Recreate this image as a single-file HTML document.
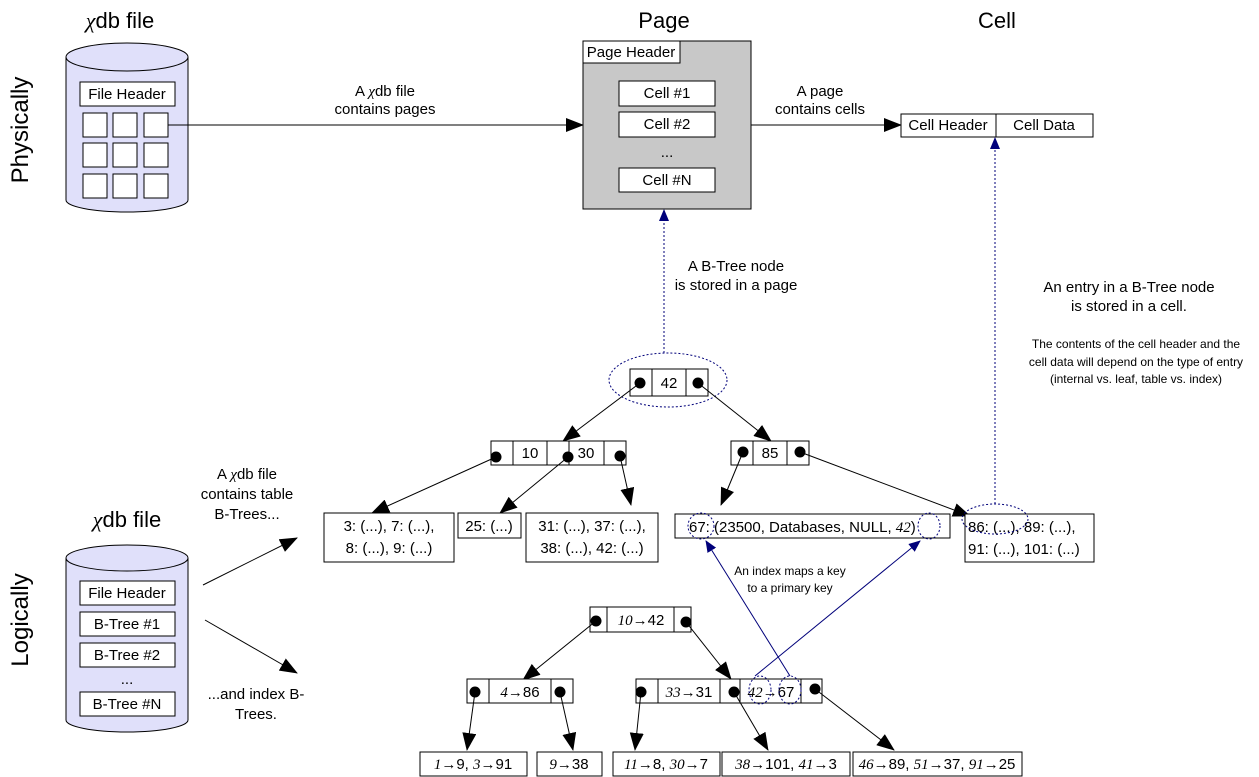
<!DOCTYPE html>
<html><head><meta charset="utf-8"><style>
html,body{margin:0;padding:0;background:#fff;width:1259px;height:777px;overflow:hidden}
svg{display:block}
text{font-family:"Liberation Sans",sans-serif;fill:#000}
.t{font-size:15px;text-anchor:middle}
.s{font-size:12px;text-anchor:middle}
.h{font-size:22px;text-anchor:middle}
.i{font-style:italic;font-family:"Liberation Serif",serif}
.b{fill:#fff;stroke:#000;stroke-width:1}
.l{stroke:#000;stroke-width:1;fill:none}
.bl{stroke:#00007a;stroke-width:1;fill:none;stroke-dasharray:2,2}
</style></head><body>
<svg width="1259" height="777" viewBox="0 0 1259 777" xmlns="http://www.w3.org/2000/svg">
<defs>
<marker id="a" markerWidth="18" markerHeight="14" refX="17" refY="7" orient="auto" markerUnits="userSpaceOnUse"><path d="M0,0 L18,7 L0,14 z" fill="#000"/></marker>
<marker id="ab" markerWidth="12" markerHeight="10" refX="11" refY="5" orient="auto" markerUnits="userSpaceOnUse"><path d="M0,0 L12,5 L0,10 z" fill="#00007a"/></marker>
</defs>

<text class="h" x="120" y="28"><tspan class="i">χ</tspan>db file</text>
<text class="h" x="664" y="28">Page</text>
<text class="h" x="997" y="28">Cell</text>
<text class="h" transform="translate(28,130) rotate(-90)" style="font-size:24px">Physically</text>
<text class="h" transform="translate(28,620) rotate(-90)" style="font-size:24px">Logically</text>

<path d="M66,57 L66,200 A61,12 0 0 0 188,200 L188,57" fill="#e0e0fa" stroke="#000"/>
<ellipse cx="127" cy="57" rx="61" ry="14" fill="#e0e0fa" stroke="#000"/>
<rect class="b" x="80" y="82" width="95" height="24"/>
<text class="t" x="127" y="99">File Header</text>
<g class="b">
<rect x="83" y="113" width="24" height="24"/><rect x="113" y="113" width="24" height="24"/><rect x="144" y="113" width="24" height="24"/>
<rect x="83" y="143" width="24" height="24"/><rect x="113" y="143" width="24" height="24"/><rect x="144" y="143" width="24" height="24"/>
<rect x="83" y="174" width="24" height="24"/><rect x="113" y="174" width="24" height="24"/><rect x="144" y="174" width="24" height="24"/>
</g>
<line class="l" x1="168" y1="125" x2="583" y2="125" marker-end="url(#a)"/>
<text class="t" x="385" y="96">A <tspan class="i">χ</tspan>db file</text>
<text class="t" x="385" y="114">contains pages</text>

<rect x="583" y="41" width="168" height="168" fill="#c8c8c8" stroke="#000"/>
<rect class="b" x="583" y="41" width="97" height="22"/>
<text class="t" x="631" y="57">Page Header</text>
<rect class="b" x="619" y="81" width="96" height="25"/><text class="t" x="667" y="98">Cell #1</text>
<rect class="b" x="619" y="112" width="96" height="25"/><text class="t" x="667" y="129">Cell #2</text>
<text class="t" x="667" y="157">...</text>
<rect class="b" x="619" y="168" width="96" height="24"/><text class="t" x="667" y="185">Cell #N</text>
<line class="l" x1="751" y1="125" x2="901" y2="125" marker-end="url(#a)"/>
<text class="t" x="820" y="96">A page</text>
<text class="t" x="820" y="114">contains cells</text>

<rect class="b" x="901" y="114" width="192" height="23"/>
<line class="l" x1="996" y1="114" x2="996" y2="137"/>
<text class="t" x="948" y="130">Cell Header</text>
<text class="t" x="1044" y="130">Cell Data</text>

<line class="bl" x1="664" y1="353" x2="664" y2="210" marker-end="url(#ab)"/>
<text class="t" x="736" y="271">A B-Tree node</text>
<text class="t" x="736" y="290">is stored in a page</text>
<line class="bl" x1="995" y1="504" x2="995" y2="138" marker-end="url(#ab)"/>
<text class="t" x="1129" y="292">An entry in a B-Tree node</text>
<text class="t" x="1129" y="311">is stored in a cell.</text>
<text class="s" x="1136" y="348">The contents of the cell header and the</text>
<text class="s" x="1136" y="366">cell data will depend on the type of entry</text>
<text class="s" x="1136" y="383">(internal vs. leaf, table vs. index)</text>

<rect class="b" x="630" y="369" width="78" height="27"/>
<line class="l" x1="652" y1="369" x2="652" y2="396"/><line class="l" x1="686" y1="369" x2="686" y2="396"/>
<text class="t" x="669" y="388">42</text>
<circle cx="640" cy="383" r="5.5"/><circle cx="698" cy="383" r="5.5"/>
<ellipse class="bl" cx="668" cy="380" rx="59" ry="27"/>
<line class="l" x1="640" y1="383" x2="563" y2="441" marker-end="url(#a)"/>
<line class="l" x1="698" y1="383" x2="771" y2="441" marker-end="url(#a)"/>

<rect class="b" x="491" y="441" width="135" height="24"/>
<line class="l" x1="513" y1="441" x2="513" y2="465"/><line class="l" x1="547" y1="441" x2="547" y2="465"/>
<line class="l" x1="569" y1="441" x2="569" y2="465"/><line class="l" x1="604" y1="441" x2="604" y2="465"/>
<text class="t" x="530" y="458">10</text><text class="t" x="586" y="458">30</text>
<circle cx="496" cy="457" r="5.5"/><circle cx="568" cy="457" r="5.5"/><circle cx="620" cy="456" r="5.5"/>
<line class="l" x1="496" y1="457" x2="372" y2="513" marker-end="url(#a)"/>
<line class="l" x1="568" y1="457" x2="500" y2="513" marker-end="url(#a)"/>
<line class="l" x1="620" y1="456" x2="631" y2="505" marker-end="url(#a)"/>

<rect class="b" x="731" y="441" width="78" height="24"/>
<line class="l" x1="753" y1="441" x2="753" y2="465"/><line class="l" x1="787" y1="441" x2="787" y2="465"/>
<text class="t" x="770" y="458">85</text>
<circle cx="743" cy="452" r="5.5"/><circle cx="800" cy="452" r="5.5"/>
<line class="l" x1="743" y1="452" x2="721" y2="505" marker-end="url(#a)"/>
<line class="l" x1="800" y1="452" x2="970" y2="516" marker-end="url(#a)"/>

<rect class="b" x="324" y="513" width="130" height="49"/>
<text class="t" x="389" y="531">3: (...), 7: (...),</text><text class="t" x="389" y="553">8: (...), 9: (...)</text>
<rect class="b" x="458" y="513" width="63" height="25"/>
<text class="t" x="489" y="531">25: (...)</text>
<rect class="b" x="526" y="513" width="132" height="49"/>
<text class="t" x="592" y="531">31: (...), 37: (...),</text><text class="t" x="592" y="553">38: (...), 42: (...)</text>
<rect class="b" x="675" y="514" width="275" height="24"/>
<text x="689" y="532" style="font-size:15px">67: (23500, Databases, NULL, <tspan class="i">42</tspan>)</text>
<rect class="b" x="965" y="514" width="129" height="48"/>
<text x="968" y="532" style="font-size:15px">86: (...), 89: (...),</text><text x="968" y="554" style="font-size:15px">91: (...), 101: (...)</text>
<ellipse class="bl" cx="701" cy="526" rx="13" ry="13"/>
<ellipse class="bl" cx="929" cy="526" rx="11" ry="13"/>
<ellipse class="bl" cx="995" cy="519" rx="33" ry="15"/>

<text class="h" x="127" y="527"><tspan class="i">χ</tspan>db file</text>
<path d="M66,558 L66,720 A61,12 0 0 0 188,720 L188,558" fill="#e0e0fa" stroke="#000"/>
<ellipse cx="127" cy="558" rx="61" ry="13" fill="#e0e0fa" stroke="#000"/>
<rect class="b" x="80" y="581" width="95" height="24"/><text class="t" x="127" y="598">File Header</text>
<rect class="b" x="80" y="612" width="95" height="24"/><text class="t" x="127" y="629">B-Tree #1</text>
<rect class="b" x="80" y="643" width="95" height="24"/><text class="t" x="127" y="660">B-Tree #2</text>
<text class="t" x="127" y="684">...</text>
<rect class="b" x="80" y="692" width="95" height="24"/><text class="t" x="127" y="709">B-Tree #N</text>
<text class="t" x="247" y="479">A <tspan class="i">χ</tspan>db file</text>
<text class="t" x="247" y="499">contains table</text>
<text class="t" x="247" y="519">B-Trees...</text>
<line class="l" x1="203" y1="585" x2="297" y2="538" marker-end="url(#a)"/>
<text class="t" x="256" y="699">...and index B-</text>
<text class="t" x="256" y="719">Trees.</text>
<line class="l" x1="205" y1="620" x2="297" y2="673" marker-end="url(#a)"/>

<rect class="b" x="590" y="607" width="101" height="25"/>
<line class="l" x1="607" y1="607" x2="607" y2="632"/><line class="l" x1="674" y1="607" x2="674" y2="632"/>
<text class="t" x="641" y="625"><tspan class="i">10</tspan>→42</text>
<circle cx="596" cy="621" r="5.5"/><circle cx="686" cy="622" r="5.5"/>
<line class="l" x1="596" y1="621" x2="523" y2="680" marker-end="url(#a)"/>
<line class="l" x1="686" y1="622" x2="731" y2="679" marker-end="url(#a)"/>

<rect class="b" x="467" y="679" width="106" height="24"/>
<line class="l" x1="489" y1="679" x2="489" y2="703"/><line class="l" x1="551" y1="679" x2="551" y2="703"/>
<text class="t" x="520" y="697"><tspan class="i">4</tspan>→86</text>
<circle cx="475" cy="692" r="5.5"/><circle cx="560" cy="692" r="5.5"/>
<line class="l" x1="475" y1="692" x2="467" y2="750" marker-end="url(#a)"/>
<line class="l" x1="560" y1="692" x2="573" y2="750" marker-end="url(#a)"/>

<rect class="b" x="636" y="679" width="186" height="24"/>
<line class="l" x1="658" y1="679" x2="658" y2="703"/><line class="l" x1="720" y1="679" x2="720" y2="703"/>
<line class="l" x1="740" y1="679" x2="740" y2="703"/><line class="l" x1="801" y1="679" x2="801" y2="703"/>
<text class="t" x="689" y="697"><tspan class="i">33</tspan>→31</text>
<text class="t" x="771" y="697"><tspan class="i">42</tspan>→67</text>
<circle cx="641" cy="692" r="5.5"/><circle cx="734" cy="692" r="5.5"/><circle cx="815" cy="689" r="5.5"/>
<ellipse class="bl" cx="760" cy="690" rx="11" ry="14"/>
<ellipse class="bl" cx="790" cy="690" rx="11" ry="14"/>
<line class="l" x1="641" y1="692" x2="635" y2="750" marker-end="url(#a)"/>
<line class="l" x1="734" y1="692" x2="768" y2="750" marker-end="url(#a)"/>
<line class="l" x1="815" y1="689" x2="894" y2="750" marker-end="url(#a)"/>

<line x1="790" y1="676" x2="706" y2="541" stroke="#00007a" stroke-width="1" marker-end="url(#ab)"/>
<line x1="755" y1="676" x2="920" y2="541" stroke="#00007a" stroke-width="1" marker-end="url(#ab)"/>
<text class="s" x="790" y="575">An index maps a key</text>
<text class="s" x="790" y="592">to a primary key</text>

<rect class="b" x="420" y="752" width="107" height="24"/><text class="t" x="473" y="769"><tspan class="i">1</tspan>→9, <tspan class="i">3</tspan>→91</text>
<rect class="b" x="537" y="752" width="65" height="24"/><text class="t" x="569" y="769"><tspan class="i">9</tspan>→38</text>
<rect class="b" x="613" y="752" width="107" height="24"/><text class="t" x="666" y="769"><tspan class="i">11</tspan>→8, <tspan class="i">30</tspan>→7</text>
<rect class="b" x="722" y="752" width="128" height="24"/><text class="t" x="786" y="769"><tspan class="i">38</tspan>→101, <tspan class="i">41</tspan>→3</text>
<rect class="b" x="853" y="752" width="169" height="24"/><text class="t" x="937" y="769"><tspan class="i">46</tspan>→89, <tspan class="i">51</tspan>→37, <tspan class="i">91</tspan>→25</text>
</svg>
</body></html>
